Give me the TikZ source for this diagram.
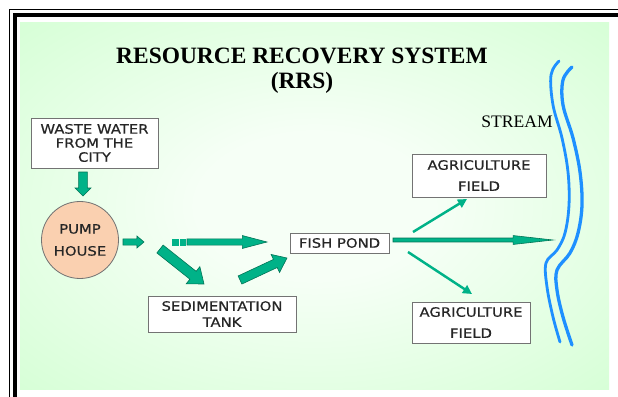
\documentclass[tikz,border=0pt]{standalone}
\usepackage{fontspec}
\setmainfont{Liberation Serif}
\newfontfamily\boxfont{DejaVu Sans}[FakeStretch=1.15, FakeBold=0.6]
\usetikzlibrary{calc,arrows.meta,shadows}

\definecolor{panelout}{RGB}{204,255,204}
\definecolor{panelin}{RGB}{246,255,246}
\definecolor{flowfill}{RGB}{0,178,136}
\definecolor{flowline}{RGB}{0,115,85}
\definecolor{pumpfill}{RGB}{250,208,176}
\definecolor{streamblue}{RGB}{30,144,255}

\pgfdeclareradialshading{panel}{\pgfpoint{0bp}{0bp}}{color(0bp)=(panelin); color(10bp)=(panelin); color(44bp)=(panelout); color(100bp)=(panelout)}

% block arrow: [style] {start} {end} {shaft half width} {head half width} {head length}
\newcommand\flowarrow[6][]{%
  \path ($(#3)!#6!(#2)$) coordinate (fa-base);
  \filldraw[flow,#1] ($(#2)!#4!90:(#3)$) -- ($(fa-base)!#4!90:(#3)$) -- ($(fa-base)!#5!90:(#3)$) -- (#3)
    -- ($(fa-base)!#5!-90:(#3)$) -- ($(fa-base)!#4!-90:(#3)$) -- ($(#2)!#4!-90:(#3)$) -- cycle;}

\tikzset{
  box/.style={draw=black!55, fill=white, line width=0.7pt, inner sep=0pt, align=center,
    text=black!85, drop shadow={shadow xshift=0.8pt, shadow yshift=-0.8pt, fill=black!40, opacity=1}},
  flow/.style={fill=flowfill, draw=flowline, line width=0.5pt, line join=miter},
  thinflow/.style={draw=flowfill, line width=2.1pt, -{Triangle[length=7.7pt,width=7.7pt]}},
  stream/.style={draw=streamblue, line width=2.4pt, line cap=round},
}

\begin{document}
\begin{tikzpicture}[x=0.03cm, y=-0.03cm]
\useasboundingbox (0,0) rectangle (618,397);
% frame and panel
\fill[white] (0,0) rectangle (618,397);
\draw[line width=1.7pt] (9.5,397) -- (9.5,9.5) -- (618,9.5);
\draw[line width=3.7pt] (15,397) -- (15,15.3) -- (618,15.3);
\shade[shading=panel] (20,23) rectangle (609,389);

% titles
\node[font=\bfseries\fontsize{20}{21}\selectfont, align=center] (title) at (302,71) {RESOURCE RECOVERY SYSTEM\\(RRS)};
\node[font=\fontsize{15}{17}\selectfont, anchor=base] (streamlabel) at (517,128) {STREAM};

% stream
\draw[stream] plot[smooth, tension=0.6] coordinates {(559,61) (551,75) (553,105) (562,138) (568,172) (569,205) (565,233) (557,250) (546,263) (547,287) (553,317) (560,342)};
\draw[stream, line width=2.8pt] plot[smooth, tension=0.6] coordinates {(572,67) (563,80) (563,105) (573,138) (580,172) (582,205) (578,233) (570,253) (557,270) (557,290) (563,317) (572,345)};

% boxes
\node[box, minimum width=3.81cm, minimum height=1.5cm, font=\boxfont\fontsize{11}{12}\selectfont] (waste) at (94.5,143) {WASTE WATER\\FROM THE\\CITY};
\node[circle, draw=black!55, fill=pumpfill, line width=0.7pt, minimum size=2.31cm, inner sep=0pt, align=center, text=black!85,
  font=\boxfont\fontsize{11}{18.8}\selectfont] (pump) at (80,240) {PUMP\\HOUSE};
\node[box, minimum width=2.97cm, minimum height=0.6cm, font=\boxfont\fontsize{11}{12}\selectfont] (fishpond) at (339.5,243) {FISH POND};
\node[box, minimum width=4.44cm, minimum height=1.08cm, font=\boxfont\fontsize{11}{13.7}\selectfont] (sedtank) at (222,314) {SEDIMENTATION\\TANK};
\node[box, minimum width=4.02cm, minimum height=1.29cm, font=\boxfont\fontsize{11}{18}\selectfont] (fieldup) at (479,175.5) {AGRICULTURE\\FIELD};
\node[box, minimum width=3.54cm, minimum height=1.23cm, font=\boxfont\fontsize{11}{18}\selectfont] (fielddown) at (471,322.5) {AGRICULTURE\\FIELD};

% arrow ends
\coordinate (waste-out) at (83,172);   \coordinate (pump-in) at (83,196);
\coordinate (pump-out) at (123,242);   \coordinate (pump-to) at (144,242);
\coordinate (bypass-s) at (187,242);   \coordinate (bypass-e) at (267,242);
\coordinate (settle-s) at (160,249);   \coordinate (settle-e) at (204,284);
\coordinate (tank-out) at (240,280);   \coordinate (pond-in) at (287,258);
\coordinate (pond-out) at (393,240);   \coordinate (stream-in) at (553,240);
\coordinate (up-s) at (413,232);       \coordinate (up-e) at (467,199);
\coordinate (down-s) at (408,252);     \coordinate (down-e) at (472,294);

% flows
\flowarrow{waste-out}{pump-in}{3.8pt}{6.8pt}{6.8pt}
\flowarrow{pump-out}{pump-to}{2.6pt}{5.1pt}{6pt}
\fill[flowfill] (172,239) rectangle (178.5,245.5);
\fill[flowfill] (180,239) rectangle (186,245.5);
\flowarrow{bypass-s}{bypass-e}{2.6pt}{5.5pt}{21pt}
\flowarrow{settle-s}{settle-e}{4.3pt}{9.4pt}{12pt}
\flowarrow{tank-out}{pond-in}{3.8pt}{8.5pt}{11pt}
\flowarrow{pond-out}{stream-in}{1.7pt}{3.8pt}{34pt}
\draw[thinflow] (up-s) -- (up-e);
\draw[thinflow] (down-s) -- (down-e);
\end{tikzpicture}
\end{document}
